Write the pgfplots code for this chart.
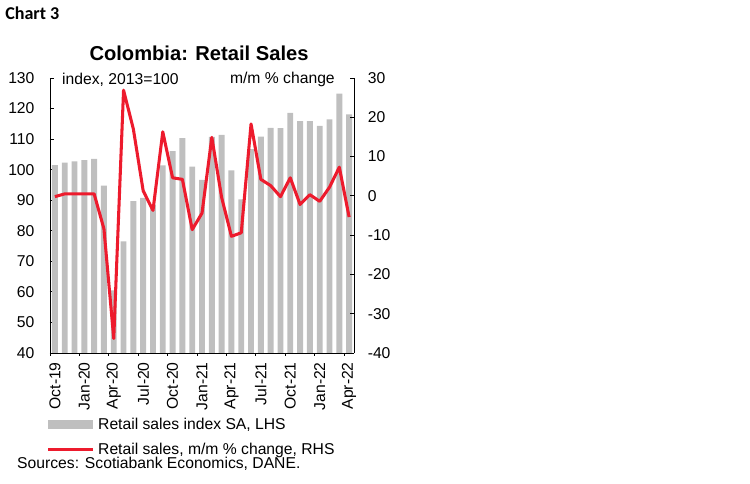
\documentclass[border=0pt]{standalone}
\usepackage{fontspec}
\setmainfont{Liberation Sans}
\newfontfamily\carlito{Carlito}
\usepackage{pgfplots}
\usepackage{pgfplotstable}
\pgfplotsset{compat=1.18}
\definecolor{barc}{RGB}{191,191,191}
\definecolor{redc}{RGB}{237,27,45}
\newcommand\fs{\fontsize{11.3}{13.5}\selectfont}

\pgfplotstableread{
x idx mm
0 101.5 -0.2
1 102.3 0.5
2 102.7 0.5
3 103.1 0.5
4 103.5 0.5
5 94.8 -8.4
6 60.5 -36.3
7 76.5 26.9
8 89.7 17.0
9 90.8 1.3
10 88.5 -3.7
11 101.4 16.3
12 106.1 4.6
13 110.3 4.2
14 101.0 -8.6
15 96.7 -4.4
16 110.7 14.9
17 111.4 -0.4
18 99.8 -10.3
19 90.3 -9.4
20 106.7 18.3
21 110.8 4.2
22 113.7 2.6
23 113.6 -0.2
24 118.6 4.6
25 115.9 -2.2
26 115.9 0.3
27 114.3 -1.4
28 116.5 2.2
29 124.9 7.3
30 118.1 -5.4
}\data

\pgfplotsset{
  base/.style={
    at={(36pt,93.6pt)}, anchor=south west,
    scale only axis, width=218.9pt, height=198pt,
    xmin=-0.5, xmax=30.5, enlargelimits=false,
    /pgf/number format/assume math mode=true,
    ticklabel style={font=\fs},
    tick align=inside,
    major tick length=2.9pt,
    axis line style={line width=0.7pt, black},
    every tick/.style={line width=0.7pt, black},
  }
}

\begin{document}
\begin{tikzpicture}[x=1pt,y=1pt]
\useasboundingbox (0,0) rectangle (540,347.76);

\begin{axis}[base,
  ymin=40, ymax=130, ytick={40,50,...,130},
  axis x line*=bottom, axis y line*=left,
  xtick={0,3,...,30},
  xticklabels={Oct-19,Jan-20,Apr-20,Jul-20,Oct-20,Jan-21,Apr-21,Jul-21,Oct-21,Jan-22,Apr-22},
  major x tick style={draw=none},
  minor xtick={-0.5,2.5,...,29.5},
  minor tick length=-2.2pt,
  xticklabel style={yshift=-6.5pt, rotate=90, anchor=east, inner sep=0pt},
  yticklabel style={anchor=east, inner sep=0pt, xshift=-11pt},
]
\addplot[ybar, bar width=0.6, fill=barc, draw=none] table[x=x, y=idx] {\data};
\end{axis}

\begin{axis}[base,
  ymin=-40, ymax=30, ytick={-40,-30,...,30},
  axis x line=none, axis y line*=right,
  yticklabel style={anchor=west, inner sep=0pt, xshift=9.7pt},
  legend style={at={(-0.011,-0.22)}, anchor=north west, draw=none, fill=none,
    inner sep=0pt, font=\fs, row sep=2.2pt, column sep=0.7pt,
    nodes={inner ysep=3pt}},
  legend cell align=left,
]
\addlegendimage{legend image code/.code={\fill[barc] (0pt,-2.9pt) rectangle (31.7pt,2.9pt);}}
\addlegendentry{Retail sales index SA, LHS}
\addplot[redc, line width=2.2pt, line join=round,
  legend image code/.code={\draw[redc, line width=2.2pt] (0pt,0pt) -- (32pt,0pt);}]
  table[x=x, y=mm] {\data};
\addlegendentry{Retail sales, m/m \% change, RHS}
\end{axis}

\node[anchor=west, inner sep=0pt, font=\carlito\bfseries\fontsize{13}{15}\selectfont] at (3.6,338.4) {Chart 3};
\node[anchor=center, inner sep=0pt, font=\bfseries\fontsize{14.5}{17}\selectfont] at (143.3,309.2) {Colombia: Retail Sales};
\node[anchor=west, inner sep=0pt, font=\fs] at (44.6,290.2) {index, 2013=100};
\node[anchor=east, inner sep=0pt, font=\fs] at (241.2,290.2) {m/m \% change};
\node[anchor=west, inner sep=0pt, font=\fs] at (12.2,13.7) {Sources: Scotiabank Economics, DANE.};
\end{tikzpicture}
\end{document}
